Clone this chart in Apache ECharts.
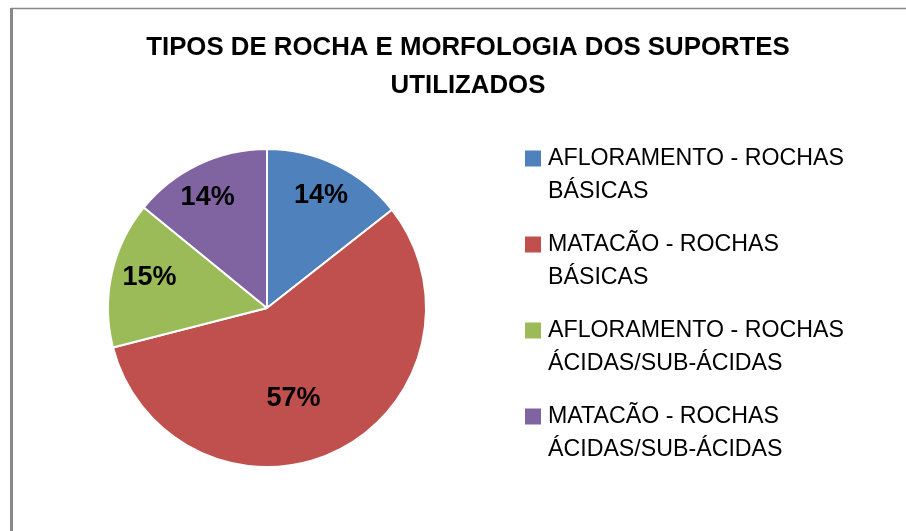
<!DOCTYPE html>
<html>
<head>
<meta charset="utf-8">
<script src="https://cdn.jsdelivr.net/npm/echarts@6/dist/echarts.min.js"></script>
<style>
  html, body { margin: 0; padding: 0; background: #fff; }
  #chart { width: 906px; height: 531px; }
</style>
</head>
<body>
<div id="chart"></div>
<script>
// categorias e valores (percentuais)
const categorias = [
  'AFLORAMENTO - ROCHAS\nBÁSICAS',
  'MATACÃO - ROCHAS\nBÁSICAS',
  'AFLORAMENTO - ROCHAS\nÁCIDAS/SUB-ÁCIDAS',
  'MATACÃO - ROCHAS\nÁCIDAS/SUB-ÁCIDAS'
];
const valores = [14.4, 56.6, 14.9, 14.1];
const cores = ['#4f81bd', '#c0504d', '#9bbb59', '#8064a2'];
// deslocamento dos rótulos (posição "best fit" do Excel)
const ajusteRotulos = [[18, -38], [-10, 17], [-37, -13], [-24, -36]];

const fonte = '"Liberation Sans", Arial, sans-serif';

const myChart = echarts.init(document.getElementById('chart'));

const option = {
  animation: false,
  title: {
    text: 'TIPOS DE ROCHA E MORFOLOGIA DOS SUPORTES\nUTILIZADOS',
    left: 468,
    top: 28.5,
    padding: 0,
    textAlign: 'center',
    textStyle: {
      fontFamily: fonte,
      fontSize: 25.8,
      fontWeight: 'bold',
      color: '#000',
      lineHeight: 38
    }
  },
  legend: {
    orient: 'vertical',
    left: 525,
    top: 142,
    padding: 0,
    itemGap: 20,
    itemWidth: 16,
    itemHeight: 49,
    // quadrado no topo, alinhado com a primeira linha do texto
    icon: 'path://M0,0h16v16h-16z M0,49h0.01v0.01h-0.01z',
    itemStyle: { borderWidth: 0 },
    textStyle: {
      fontFamily: fonte,
      fontSize: 23.2,
      color: '#000',
      lineHeight: 33,
      padding: [0, 0, 0, 2]
    },
    data: categorias
  },
  graphic: [
    {
      type: 'line',
      shape: { x1: 11, y1: 8.5, x2: 906, y2: 8.5 },
      style: { stroke: '#888', lineWidth: 1.5 }
    },
    {
      type: 'line',
      shape: { x1: 11.5, y1: 8, x2: 11.5, y2: 531 },
      style: { stroke: '#888', lineWidth: 3 }
    }
  ],
  series: [{
    type: 'pie',
    center: [267, 308],
    radius: 159,
    startAngle: 90,
    clockwise: true,
    silent: true,
    itemStyle: { borderColor: '#fff', borderWidth: 2 },
    label: {
      show: true,
      position: 'inside',
      fontFamily: fonte,
      fontSize: 27,
      fontWeight: 'bold',
      color: '#000',
      formatter: function (p) { return Math.round(p.percent) + '%'; }
    },
    labelLine: { show: false },
    data: categorias.map(function (nome, i) {
      return {
        name: nome,
        value: valores[i],
        itemStyle: { color: cores[i] },
        label: { offset: ajusteRotulos[i] }
      };
    })
  }]
};

// desenha o gráfico
myChart.setOption(option);
</script>
</body>
</html>
